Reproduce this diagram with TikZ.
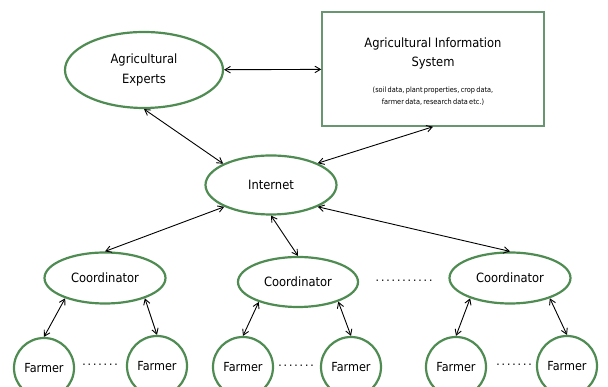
\documentclass[tikz,border=0pt]{standalone}
\usepackage{fontspec}
\setmainfont{DejaVu Sans Condensed}
\usetikzlibrary{shapes.geometric,arrows.meta}

\definecolor{leafgreen}{RGB}{78,140,82}
\definecolor{boxgreen}{RGB}{104,150,112}

\tikzset{
  blob/.style={ellipse, draw=leafgreen, line width=2.2pt, fill=white, align=center,
    inner sep=0pt, font=\fontsize{12.8}{20}\selectfont},
  farmer/.style={circle, draw=leafgreen, line width=2.2pt, fill=white,
    minimum size=60pt, inner sep=0pt, font=\fontsize{12.5}{14}\selectfont},
  infobox/.style={rectangle, draw=boxgreen, line width=1.5pt, fill=white,
    minimum width=222pt, minimum height=114pt, inner sep=0pt},
  link/.style={{Straight Barb[length=5.5pt,width=6.5pt]}-{Straight Barb[length=5.5pt,width=6.5pt]}, line width=0.9pt},
  gap/.style={inner sep=0pt, font=\fontsize{12}{14}\selectfont}
}
\newcommand{\gapdots}[1]{\foreach \k in {1,...,#1}{.\kern1.9pt}}
\newcommand{\notefont}{\fontsize{7.3}{12.5}\selectfont\spaceskip=1.3pt\relax}

\begin{document}
\begin{tikzpicture}[x=1pt,y=1pt]
        \useasboundingbox (0,0) rectangle (608,387);
        \clip (0,0) rectangle (608,387);

        % Top row
        \node[blob, minimum width=158pt, minimum height=76pt] (expert) at (144,317) {Agricultural\\Experts};
        \node[infobox] (ais) at (433,318) {};
        \node[align=center, font=\fontsize{12.8}{19}\selectfont] (aistitle) at (433,334) {Agricultural Information\\System};
        \node[align=center, font=\notefont] (aisnote) at (433,291)
          {(soil data, plant properties, crop data,\\farmer data, research data etc.)};

        % Internet
        \node[blob, minimum width=131pt, minimum height=59pt] (net) at (271,202) {Internet};

        % Coordinators
        \node[blob, minimum width=121pt, minimum height=51pt] (coord1) at (105,109) {Coordinator};
        \node[blob, minimum width=120pt, minimum height=50pt] (coord2) at (298,105) {Coordinator};
        \node[blob, minimum width=121pt, minimum height=51pt] (coord3) at (510,109) {Coordinator};
        \node[gap] (cgap) at (405,106) {\gapdots{11}};

        % Farmers
        \node[farmer] (farm1) at (44,19) {Farmer};
        \node[farmer] (farm2) at (157,21) {Farmer};
        \node[farmer] (farm3) at (243,20) {Farmer};
        \node[farmer] (farm4) at (351,20) {Farmer};
        \node[farmer] (farm5) at (456,20) {Farmer};
        \node[farmer] (farm6) at (567,21) {Farmer};
        \node[gap] (fgap1) at (101,22) {\gapdots{7}};
        \node[gap] (fgap2) at (297,21) {\gapdots{7}};
        \node[gap] (fgap3) at (515,22) {\gapdots{7}};

        % Links
        \draw[link] (expert) -- (ais);
        \draw[link] (expert.south) -- (net.156);
        \draw[link] (ais.south) -- (net.25);
        \draw[link] (net.205) -- (coord1.north);
        \draw[link] (net.south) -- (coord2.north);
        \draw[link] (net.335) -- (coord3.north);
        \draw[link] (coord1.207) -- (farm1.north);
        \draw[link] (coord1.333) -- (farm2.north);
        \draw[link] (coord2.207) -- (farm3.north);
        \draw[link] (coord2.334) -- (farm4.north);
        \draw[link] (coord3.207) -- (farm5.north);
        \draw[link] (coord3.333) -- (farm6.north);
    \end{tikzpicture}
\end{document}
